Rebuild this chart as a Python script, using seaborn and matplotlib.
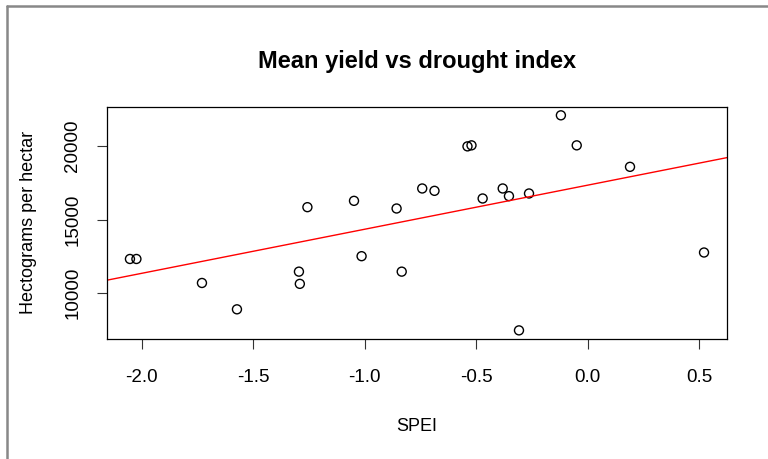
import numpy as np
import pandas as pd
import matplotlib
matplotlib.use("Agg")
import matplotlib.pyplot as plt
from matplotlib.lines import Line2D
import seaborn as sns

# values (SPEI vs mean yield, hg/ha)
spei = [-2.053, -2.024, -1.730, -1.573, -1.295, -1.291, -1.257, -1.048,
        -1.014, -0.857, -0.834, -0.742, -0.687, -0.539, -0.521, -0.471,
        -0.381, -0.353, -0.308, -0.263, -0.120, -0.049, 0.190, 0.522]
mean_yield = [12330, 12330, 10700, 8910, 11470, 10640, 15850, 16280,
              12520, 15760, 11470, 17120, 16960, 19980, 20050, 16440,
              17120, 16600, 7480, 16780, 22090, 20050, 18590, 12770]
x_ticks = [-2.0, -1.5, -1.0, -0.5, 0.0, 0.5]
y_ticks = [10000, 15000, 20000]

df = pd.DataFrame({"SPEI": spei, "yield": mean_yield})

sns.set_style("white")
plt.rcParams.update({
    "font.family": ["Liberation Sans", "DejaVu Sans"],
    "text.color": "black",
    "axes.labelcolor": "black",
    "xtick.color": "black",
    "ytick.color": "black",
})

fig = plt.figure(figsize=(7.68, 4.59), dpi=100)
ax = fig.add_axes([0.1393, 0.2615, 0.8073, 0.5060])


def r_range(v):
    # R's default 4% axis extension
    lo, hi = min(v), max(v)
    pad = 0.04 * (hi - lo)
    return lo - pad, hi + pad


ax.set_xlim(*r_range(spei))
ax.set_ylim(*r_range(mean_yield))

sns.scatterplot(data=df, x="SPEI", y="yield", ax=ax, marker="o", s=42,
                facecolor="none", edgecolor="black", linewidth=1.0)
sns.regplot(data=df, x="SPEI", y="yield", ax=ax, scatter=False, ci=None,
            truncate=False, color="red", line_kws={"lw": 1.0})

ax.set_xlim(*r_range(spei))
ax.set_ylim(*r_range(mean_yield))

ax.set_xticks(x_ticks)
ax.set_xticklabels([f"{t:.1f}" for t in x_ticks])
ax.set_yticks(y_ticks)
ax.set_yticklabels([str(t) for t in y_ticks], rotation=90, va="center")

ax.tick_params(axis="both", direction="out", length=7.5, width=0.8,
               color="#333333", labelsize=13.5, bottom=True, left=True)
ax.tick_params(axis="x", pad=14)
ax.tick_params(axis="y", pad=11)
for side in ax.spines.values():
    side.set_color("black")
    side.set_linewidth(0.9)

ax.set_xlabel("SPEI", fontsize=13, labelpad=23)
ax.set_ylabel("Hectograms per hectar", fontsize=13, labelpad=20)
ax.set_title("Mean yield vs drought index", fontsize=17, fontweight="bold",
             pad=28)

# screenshot frame on top and left
fig.add_artist(Line2D([0.0087, 1.0], [0.986, 0.986], transform=fig.transFigure,
                      color="#888888", lw=1.8))
fig.add_artist(Line2D([0.0087, 0.0087], [0.0, 0.986], transform=fig.transFigure,
                      color="#888888", lw=1.8))

fig.savefig("out.png", dpi=100)
plt.close(fig)
